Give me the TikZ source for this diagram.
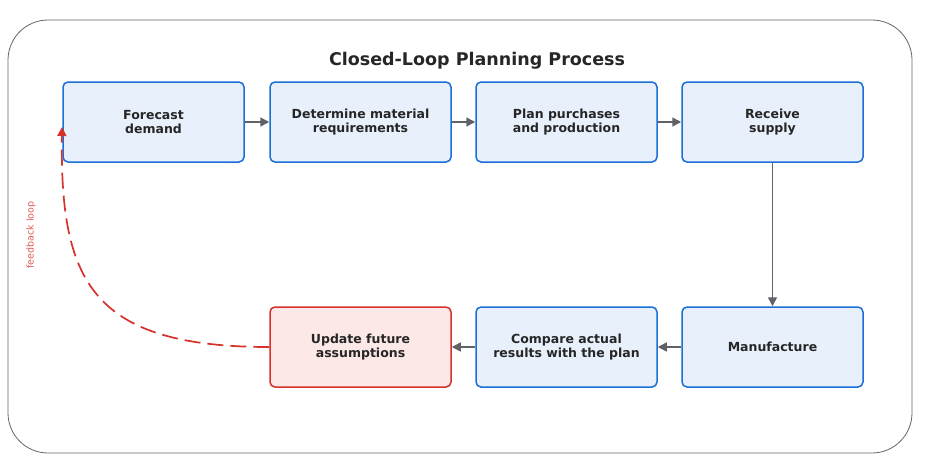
\documentclass[tikz,border=0pt]{standalone}
\usepackage{fontspec}
\setmainfont{DejaVu Sans}
\usetikzlibrary{positioning,arrows.meta}
\definecolor{boxblue}{HTML}{1A6FD8}
\definecolor{fillblue}{HTML}{E8F0FC}
\definecolor{boxred}{HTML}{D6322B}
\definecolor{fillred}{HTML}{FCE8E7}
\definecolor{arrowgray}{HTML}{5F6368}
\tikzset{
    stage/.style={draw=boxblue, fill=fillblue, line width=1.5pt, rounded corners=5pt,
        minimum width=181pt, minimum height=80pt, align=center,
        font=\fontsize{12.5}{14.5}\selectfont\bfseries, text=black!85},
    flow/.style={-{Triangle[length=9pt,width=9pt]}, draw=arrowgray, line width=1.5pt}
}
\begin{document}
\begin{tikzpicture}[x=1pt, y=-1pt]
    \useasboundingbox (0,0) rectangle (929,461);
    \draw[black!60, rounded corners=40pt, line width=0.8pt] (8,20) rectangle (912,453);
    \node[font=\fontsize{17.5}{20}\selectfont\bfseries, text=black!85] (title) at (477,61) {Closed-Loop Planning Process};

    \node[stage] (forecast) at (153.5,122) {Forecast\\demand};
    \node[stage] (material) at (360.5,122) {Determine material\\requirements};
    \node[stage] (plan) at (566.5,122) {Plan purchases\\and production};
    \node[stage] (supply) at (772.5,122) {Receive\\supply};
    \node[stage] (manufacture) at (772.5,347) {Manufacture};
    \node[stage] (compare) at (566.5,347) {Compare actual\\results with the plan};
    \node[stage, draw=boxred, fill=fillred] (update) at (360.5,347) {Update future\\assumptions};

    \draw[flow] (forecast) -- (material);
    \draw[flow] (material) -- (plan);
    \draw[flow] (plan) -- (supply);
    \draw[flow] (supply) -- (manufacture);
    \draw[flow] (manufacture) -- (compare);
    \draw[flow] (compare) -- (update);

    \coordinate (loopin) at (62,127);
    \draw[-{Triangle[length=9pt,width=9pt]}, draw=boxred, line width=1.7pt, dash pattern=on 16pt off 7pt]
        (update.west) .. controls (90,347) and (60,280) .. (loopin);
    \node[rotate=90, text=boxred!80, font=\fontsize{9.5}{11}\selectfont] (looplabel) at (31,235) {feedback loop};
\end{tikzpicture}
\end{document}
